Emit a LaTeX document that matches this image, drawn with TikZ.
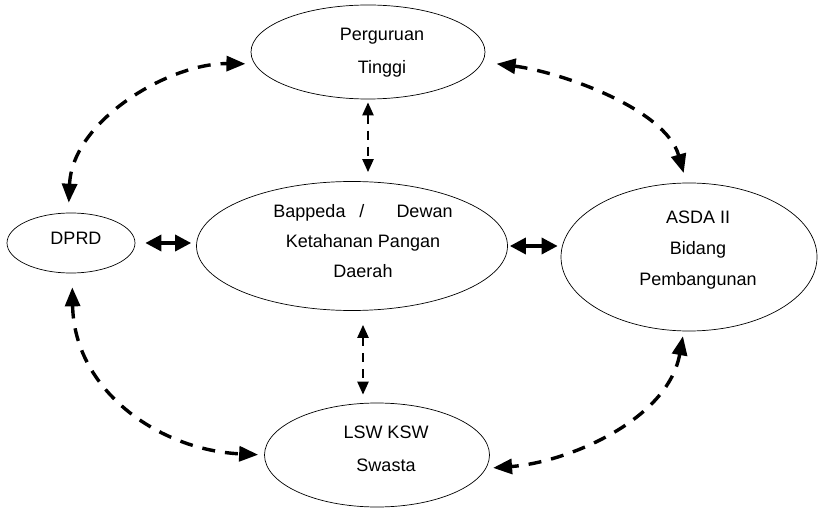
\documentclass[tikz,border=0pt]{standalone}
\usepackage{fontspec}
\setmainfont{Liberation Sans}
\usetikzlibrary{shapes.geometric,arrows.meta}
\begin{document}
\begin{tikzpicture}[x=1pt,y=-1pt,
  ell/.style={draw,ellipse,line width=0.7pt,inner sep=0pt},
  txt/.style={align=center,inner sep=0pt,font=\fontsize{18}{31}\selectfont},
  bigtip/.style={{Triangle[length=19pt,width=15pt]}-{Triangle[length=19pt,width=15pt]}},
  dasharr/.style={line width=3.4pt,dash pattern=on 13pt off 10pt,bigtip},
  vdash/.style={line width=2.4pt,dash pattern=on 9pt off 7pt,{Triangle[length=13pt,width=11pt]}-{Triangle[length=13pt,width=11pt]}},
  solidarr/.style={line width=3.4pt,{Triangle[length=16pt,width=16pt]}-{Triangle[length=16pt,width=16pt]}}]
\useasboundingbox (0,0) rectangle (818,510);

% ellipses
\node[ell,minimum width=234pt,minimum height=94pt] (pt) at (368,52) {};
\node[ell,minimum width=128pt,minimum height=60pt] (dprd) at (71,243) {};
\node[ell,minimum width=311pt,minimum height=129pt] (bap) at (352,246) {};
\node[ell,minimum width=256pt,minimum height=148pt] (asda) at (689,257) {};
\node[ell,minimum width=225pt,minimum height=104pt] (lsw) at (377,455) {};

% texts
\node[txt,font=\fontsize{18}{33}\selectfont] (ptT) at (382,53) {Perguruan\\Tinggi};
\node[txt] (dprdT) at (76,238) {DPRD};
\node[txt,font=\fontsize{18}{30}\selectfont] (bapT) at (363,241) {Bappeda\hspace{14pt}/\hspace{32pt}Dewan\\Ketahanan Pangan\\Daerah};
\node[txt] (asdaT) at (698,250) {ASDA II\\Bidang\\Pembangunan};
\node[txt,font=\fontsize{18}{33}\selectfont] (lswT) at (386,449) {LSW KSW\\Swasta};

% curved dashed connectors
\draw[dasharr,shorten <=10pt,shorten >=9pt]
  (dprd.95) .. controls +(4,-93) and +(-84,-1) .. (pt.186);
\draw[dasharr,shorten <=14pt,shorten >=10pt]
  (pt.355) .. controls +(78,10) and +(-21,-74) .. (asda.92);
\draw[dasharr,shorten <=14pt,shorten >=6pt]
  (dprd.272) .. controls +(2,117) and +(-105,-5) .. (lsw.180);
\draw[dasharr,shorten <=5pt,shorten >=7pt]
  (asda.266) .. controls +(-16,89) and +(81,-6) .. (lsw.353);

% vertical dashed connectors
\draw[vdash,shorten <=3pt,shorten >=9pt] (pt.south) -- (pt.south |- bap.north);
\draw[vdash,shorten <=14pt,shorten >=8pt] ([xshift=11pt]bap.south) -- ([xshift=11pt]bap.south |- lsw.north);

% solid double arrows
\draw[solidarr,shorten <=10pt,shorten >=5pt] (dprd.east) -- (dprd.east -| bap.west);
\draw[solidarr,shorten <=2pt,shorten >=3pt] (bap.east) -- (bap.east -| asda.west);
\end{tikzpicture}
\end{document}
